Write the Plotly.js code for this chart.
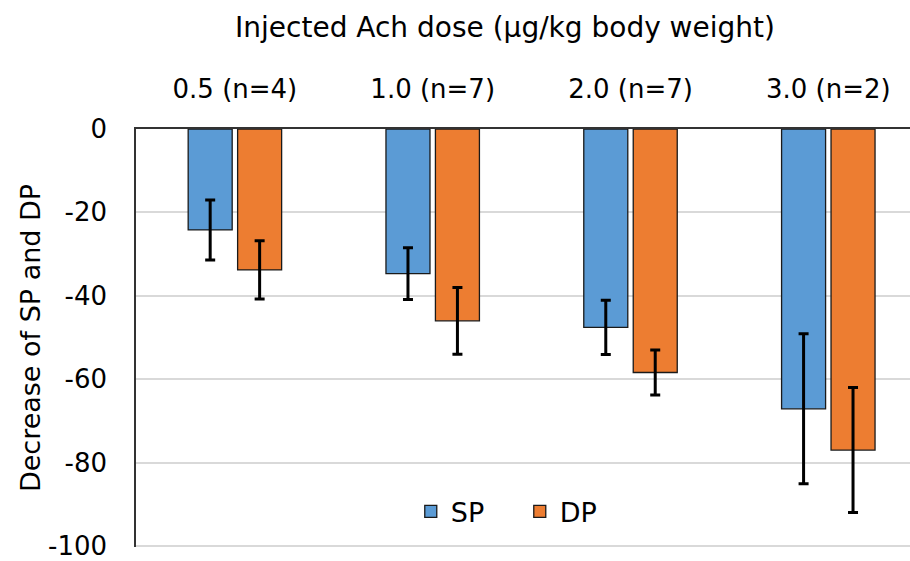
<!DOCTYPE html>
<html>
<head>
<meta charset="utf-8">
<script src="https://cdn.plot.ly/plotly-3.0.1.min.js"></script>
<style>html,body{margin:0;padding:0;background:#fff;}#chart{width:910px;height:561px;}</style>
</head>
<body>
<div id="chart"></div>
<script>
var categories = ["0.5 (n=4)", "1.0 (n=7)", "2.0 (n=7)", "3.0 (n=2)"];
var spValues = [-24.2, -34.7, -47.6, -67.1];
var spErrors = [7.2, 6.2, 6.5, 18.0];
var dpValues = [-33.8, -46.0, -58.4, -77.0];
var dpErrors = [7.0, 8.0, 5.4, 15.0];
var seriesNames = ["SP", "DP"];
var yTicks = [0, -20, -40, -60, -80, -100];

var font = "'DejaVu Sans', 'Noto Sans', sans-serif";
var errStyle = {type: "data", visible: true, color: "#000000", thickness: 3, width: 5};

var traces = [
  {type: "bar", name: seriesNames[0], x: categories, y: spValues,
   error_y: Object.assign({array: spErrors}, errStyle),
   marker: {color: "#5B9BD5", line: {color: "#1a1a1a", width: 1.3}}},
  {type: "bar", name: seriesNames[1], x: categories, y: dpValues,
   error_y: Object.assign({array: dpErrors}, errStyle),
   marker: {color: "#ED7D31", line: {color: "#1a1a1a", width: 1.3}}}
];

var layout = {
  width: 910, height: 561,
  margin: {l: 136, r: 0, t: 129, b: 14},
  paper_bgcolor: "#ffffff", plot_bgcolor: "#ffffff",
  font: {family: font, size: 26, color: "#000000"},
  title: {text: "Injected Ach dose (µg/kg body weight)", font: {family: font, size: 28},
          x: 505 / 910, xanchor: "center", xref: "container", y: 1 - 27 / 561, yanchor: "middle", yref: "container"},
  barmode: "group", bargap: 0.5, bargroupgap: 0.11,
  showlegend: true,
  legend: {orientation: "h", x: 0.355, xanchor: "left", y: 0.084, yanchor: "middle",
           font: {family: font, size: 27}, bgcolor: "rgba(0,0,0,0)",
           entrywidth: 64, entrywidthmode: "pixels"},
  xaxis: {side: "top", type: "category", range: [-0.5, 3.413],
          showline: true, linecolor: "#333333", linewidth: 1.5, ticks: "", showgrid: false,
          tickfont: {family: font, size: 26}, ticklabelstandoff: 19},
  yaxis: {range: [-100.25, 0], tickvals: yTicks, ticktext: yTicks.map(String),
          showline: true, linecolor: "#333333", linewidth: 1.5, ticks: "",
          showgrid: true, gridcolor: "#d9d9d9", gridwidth: 1.5, zeroline: false,
          tickfont: {family: font, size: 26}, ticklabelstandoff: 22, ticklabeloverflow: "allow",
          title: {text: "Decrease of SP and DP", font: {family: font, size: 27}, standoff: 0}}
};

Plotly.newPlot("chart", traces, layout, {displayModeBar: false});
</script>
</body>
</html>
